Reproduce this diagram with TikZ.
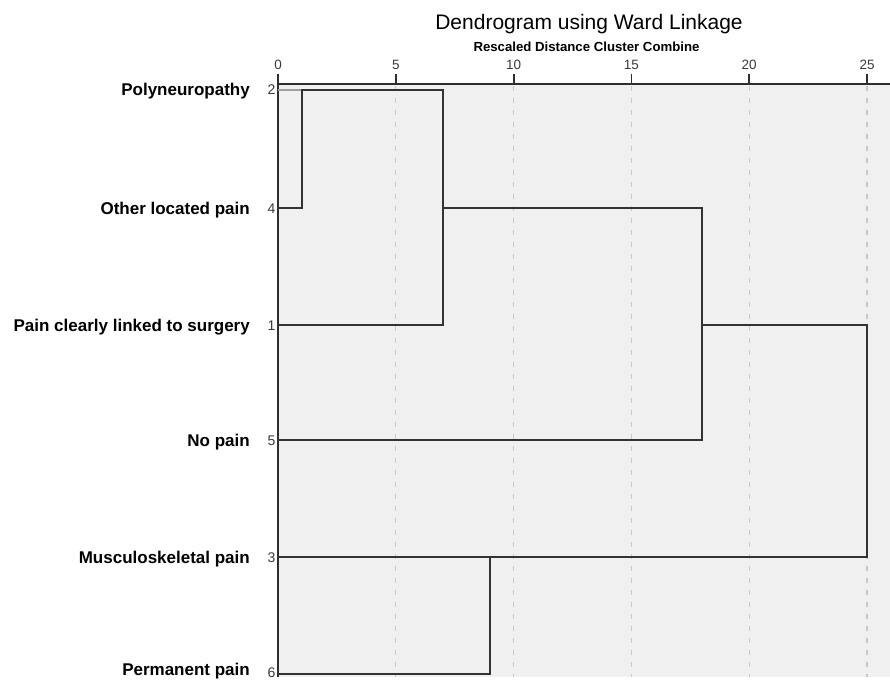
\documentclass[tikz,border=0pt]{standalone}
\usepackage{fontspec}
\setmainfont{Liberation Sans}
\definecolor{bgc}{HTML}{F0F0F0}
\definecolor{treec}{HTML}{333333}
\definecolor{gridc}{HTML}{C8C8C8}
\definecolor{axc}{HTML}{2E2E2E}
\definecolor{numc}{HTML}{3A3A3A}
\tikzset{
  tree/.style={draw=treec, line width=2pt, line cap=rect},
  lightleaf/.style={draw=gray!75, line width=1.5pt},
  gridline/.style={draw=gridc, line width=1.1pt, dash pattern=on 5pt off 7pt},
  axisline/.style={draw=axc, line width=1.8pt},
  rowlabel/.style={anchor=base east, inner sep=0pt, font=\fontsize{17}{20}\selectfont\bfseries},
  leafnum/.style={anchor=base east, inner sep=0pt, text=numc, font=\fontsize{14}{16}\selectfont},
  ticklabel/.style={anchor=base, inner sep=0pt, text=numc, font=\fontsize{13.5}{16}\selectfont},
}
\begin{document}
\begin{tikzpicture}[x=1pt,y=-1pt]
\useasboundingbox (0,0) rectangle (890,679);
% background panel
\fill[bgc] (278,84) rectangle (890,677);
% grid lines
\foreach \k in {5,10,15,20,25} {
  \draw[gridline] ({278+23.56*\k},86) -- ({278+23.56*\k},677);
}
% title
\node[anchor=base, inner sep=0pt, font=\fontsize{21}{24}\selectfont] (title) at (589,30) {Dendrogram using Ward Linkage};
\node[anchor=base, inner sep=0pt, font=\fontsize{13.2}{15}\selectfont\bfseries] (subtitle) at (586.5,52) {Rescaled Distance Cluster Combine};
% axis
\coordinate (ax0) at (278,84);
\coordinate (axend) at (890,84);
\coordinate (axbot) at (278,677);
\draw[axisline] (ax0) -- (axend);
\draw[axisline] (278,74) -- (axbot);
\foreach \k in {0,5,10,15,20,25} {
  \draw[axisline] ({278+23.56*\k},74) -- ({278+23.56*\k},84);
  \node[ticklabel] (t\k) at ({278+23.56*\k},70) {\k};
}
% leaves
\coordinate (l2) at (278,90);
\coordinate (l4) at (278,208);
\coordinate (l1) at (278,325);
\coordinate (l5) at (278,440);
\coordinate (l3) at (278,557);
\coordinate (l6) at (278,674);
\node[rowlabel] (n2) at (250,96) {Polyneuropathy};
\node[rowlabel] (n4) at (250,214) {Other located pain};
\node[rowlabel] (n1) at (250,331) {Pain clearly linked to surgery};
\node[rowlabel] (n5) at (250,446) {No pain};
\node[rowlabel] (n3) at (250,563) {Musculoskeletal pain};
\node[rowlabel] (n6) at (250,675) {Permanent pain};
\node[leafnum] (k2) at (275.5,95) {2};
\node[leafnum] (k4) at (275.5,213) {4};
\node[leafnum] (k1) at (275.5,330) {1};
\node[leafnum] (k5) at (275.5,445) {5};
\node[leafnum] (k3) at (275.5,562) {3};
\node[leafnum] (k6) at (275.5,677.5) {6};
% merge points
\coordinate (a) at (301.6,90);
\coordinate (b) at (442.9,90);
\coordinate (c) at (702,208);
\coordinate (d) at (490,557);
\coordinate (e) at (867,325);
% tree
\draw[lightleaf] (l2) -- (a);
\draw[tree] (l4) -| (a) -- (b);
\draw[tree] (l1) -| (b);
\draw[tree] (b |- l4) -- (c);
\draw[tree] (l5) -| (c);
\draw[tree] (c |- l1) -- (e);
\draw[tree] (l6) -| (d);
\draw[tree] (l3) -- (d) -- (e |- l3) -- (e);
\end{tikzpicture}
\end{document}
